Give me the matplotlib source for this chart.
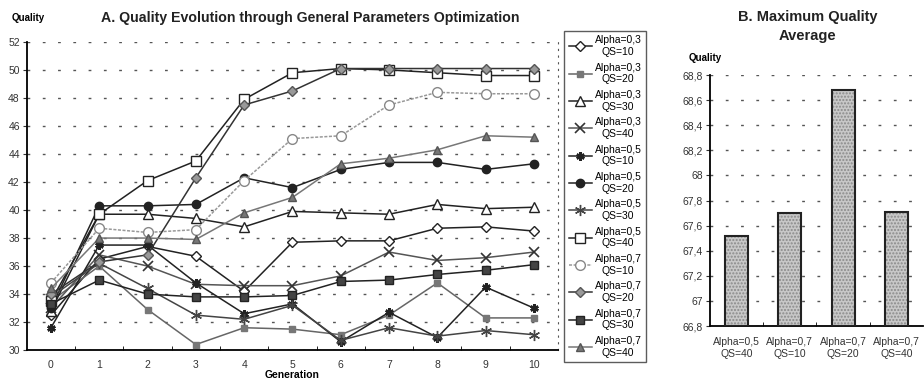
import matplotlib.pyplot as plt
from matplotlib.ticker import FuncFormatter, MultipleLocator

plt.rcParams['font.family'] = ['Liberation Sans', 'DejaVu Sans']

# data
generations = list(range(11))
a03_qs10 = [32.5, 36.5, 37.4, 36.7, 34.2, 37.7, 37.8, 37.8, 38.7, 38.8, 38.5]
a03_qs20 = [33.5, 36.0, 32.9, 30.4, 31.6, 31.5, 31.1, 32.5, 34.8, 32.3, 32.3]
a03_qs30 = [32.8, 39.7, 39.7, 39.4, 38.8, 39.9, 39.8, 39.7, 40.4, 40.1, 40.2]
a03_qs40 = [33.0, 36.8, 36.0, 34.7, 34.6, 34.6, 35.3, 37.0, 36.4, 36.6, 37.0]
a05_qs10 = [31.6, 37.5, 37.5, 34.8, 32.6, 33.3, 30.6, 32.7, 30.9, 34.5, 33.0]
a05_qs20 = [33.0, 40.3, 40.3, 40.4, 42.3, 41.6, 42.9, 43.4, 43.4, 42.9, 43.3]
a05_qs30 = [33.8, 36.2, 34.4, 32.5, 32.2, 33.2, 30.7, 31.6, 31.0, 31.4, 31.1]
a05_qs40 = [33.5, 39.7, 42.1, 43.5, 47.9, 49.8, 50.1, 50.0, 49.8, 49.6, 49.6]
a07_qs10 = [34.8, 38.7, 38.4, 38.6, 42.1, 45.1, 45.3, 47.5, 48.4, 48.3, 48.3]
a07_qs20 = [34.0, 36.3, 36.8, 42.3, 47.5, 48.5, 50.1, 50.1, 50.1, 50.1, 50.1]
a07_qs30 = [33.3, 35.0, 34.0, 33.8, 33.8, 33.9, 34.9, 35.0, 35.4, 35.7, 36.1]
a07_qs40 = [34.4, 38.0, 38.0, 37.9, 39.8, 40.9, 43.3, 43.7, 44.3, 45.3, 45.2]

bar_labels = ['Alpha=0,5\nQS=40', 'Alpha=0,7\nQS=10', 'Alpha=0,7\nQS=20', 'Alpha=0,7\nQS=40']
bar_values = [67.52, 67.70, 68.68, 67.71]

comma_fmt = FuncFormatter(lambda v, p: ('%g' % round(v, 1)).replace('.', ','))

fig = plt.figure(figsize=(9.24, 3.81), dpi=100)

# A. line chart
ax = fig.add_axes([0.029, 0.081, 0.575, 0.809])
series = [
    (a03_qs10, 'Alpha=0,3\nQS=10', dict(color='#222222', ls='-', marker='D', ms=5, mfc='white', mec='#222222')),
    (a03_qs20, 'Alpha=0,3\nQS=20', dict(color='#666666', ls='-', marker='s', ms=4, mfc='#777777', mec='#777777')),
    (a03_qs30, 'Alpha=0,3\nQS=30', dict(color='#222222', ls='-', marker='^', ms=7, mfc='white', mec='#222222')),
    (a03_qs40, 'Alpha=0,3\nQS=40', dict(color='#555555', ls='-', marker='x', ms=7, mew=1.2, mec='#333333')),
    (a05_qs10, 'Alpha=0,5\nQS=10', dict(color='#222222', ls='-', marker=(6, 2, 0), ms=6, mew=1.8, mec='#222222')),
    (a05_qs20, 'Alpha=0,5\nQS=20', dict(color='#222222', ls='-', marker='o', ms=6, mfc='#222222', mec='#222222')),
    (a05_qs30, 'Alpha=0,5\nQS=30', dict(color='#444444', ls='-', marker=(6, 2, 0), ms=8, mew=1.0, mec='#444444')),
    (a05_qs40, 'Alpha=0,5\nQS=40', dict(color='#222222', ls='-', marker='s', ms=7, mfc='white', mec='#222222')),
    (a07_qs10, 'Alpha=0,7\nQS=10', dict(color='#999999', ls=(0, (2, 1)), marker='o', ms=7, mfc='white', mec='#888888')),
    (a07_qs20, 'Alpha=0,7\nQS=20', dict(color='#333333', ls='-', marker='D', ms=5.5, mfc='#999999', mec='#555555')),
    (a07_qs30, 'Alpha=0,7\nQS=30', dict(color='#222222', ls='-', marker='s', ms=6, mfc='#444444', mec='#222222')),
    (a07_qs40, 'Alpha=0,7\nQS=40', dict(color='#777777', ls='-', marker='^', ms=6, mfc='#777777', mec='#555555')),
]
for vals, label, style in series:
    ax.plot(generations, vals, lw=1.1, label=label, **style)

ax.set_xlim(-0.5, 10.5)
ax.set_ylim(30, 52)
ax.set_xticks(generations)
ax.set_xticks([g + 0.5 for g in generations[:-1]], minor=True)
ax.yaxis.set_major_locator(MultipleLocator(2))
ax.tick_params(axis='x', which='major', length=0, labelsize=7.5, colors='#333333', pad=7)
ax.tick_params(axis='x', which='minor', direction='in', length=3)
ax.tick_params(axis='y', direction='out', length=3, labelsize=7.5, colors='#333333', pad=2)
ax.grid(axis='y', color='#555555', ls=(0, (2, 9)), lw=1)
ax.set_axisbelow(True)
ax.spines['top'].set_visible(False)
ax.spines['right'].set_linestyle((0, (1, 5)))
ax.spines['right'].set_color('#555555')
ax.spines['left'].set_linewidth(1.3)
ax.spines['bottom'].set_linewidth(1.3)
ax.set_xlabel('Generation', fontsize=7.5, fontweight='bold', labelpad=0)
fig.text(0.013, 0.952, 'Quality', fontsize=7, fontweight='bold', va='center')
fig.text(0.336, 0.952, 'A. Quality Evolution through General Parameters Optimization',
         fontsize=10.2, fontweight='bold', ha='center', va='center', color='#222222')

leg = ax.legend(loc='upper left', bbox_to_anchor=(1.012, 1.035), fontsize=7.5, frameon=True,
                fancybox=False, edgecolor='#333333', handlelength=2.2, handletextpad=0.3,
                labelspacing=0.55, borderpad=0.4, borderaxespad=0)
leg.get_frame().set_linewidth(1.0)
for t in leg.get_texts():
    t.set_multialignment('center')

# B. bar chart
bx = fig.add_axes([0.768, 0.144, 0.231, 0.659])
xpos = list(range(len(bar_values)))
bx.bar(xpos, [v - 66.8 for v in bar_values], bottom=66.8, width=0.43,
       color='#c8c8c8', edgecolor='#8a8a8a', hatch='.....', lw=0, zorder=2)
bx.bar(xpos, [v - 66.8 for v in bar_values], bottom=66.8, width=0.43,
       fill=False, edgecolor='#222222', lw=1.5, zorder=3)
bx.set_xlim(-0.5, 3.5)
bx.set_ylim(66.8, 68.8)
bx.set_xticks(xpos)
bx.set_xticklabels(bar_labels)
bx.set_xticks([p + 0.5 for p in xpos[:-1]], minor=True)
bx.yaxis.set_major_locator(MultipleLocator(0.2))
bx.yaxis.set_major_formatter(comma_fmt)
bx.tick_params(axis='x', which='major', length=0, labelsize=7.5, colors='#333333', pad=8)
bx.tick_params(axis='x', which='minor', direction='in', length=3)
bx.tick_params(axis='y', direction='out', length=3, labelsize=7.5, colors='#333333', pad=2)
bx.grid(axis='y', color='#555555', ls=(0, (2, 9)), lw=1)
bx.set_axisbelow(True)
bx.spines['top'].set_visible(False)
bx.spines['right'].set_visible(False)
bx.spines['left'].set_linewidth(1.3)
bx.spines['bottom'].set_linewidth(1.3)
fig.text(0.745, 0.848, 'Quality', fontsize=7, fontweight='bold', va='center')
fig.text(0.874, 0.93, 'B. Maximum Quality\nAverage', fontsize=10.5, fontweight='bold',
         ha='center', va='center', color='#222222', linespacing=1.5)

fig.savefig('out.png', dpi=100)
